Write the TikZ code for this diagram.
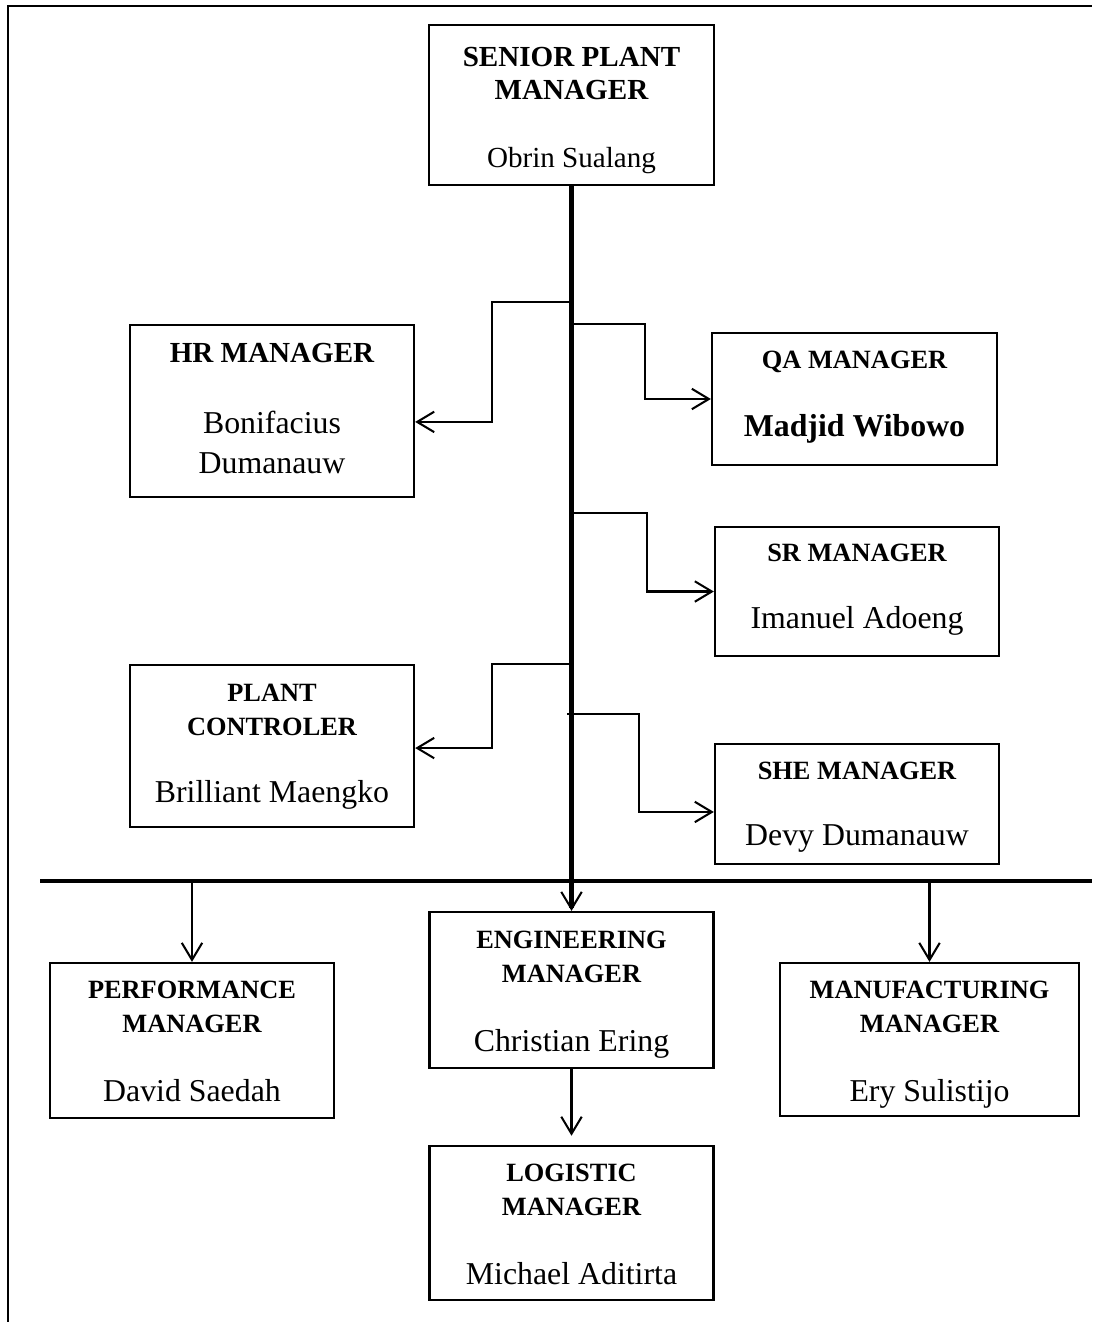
\documentclass[tikz,border=0pt]{standalone}
\usepackage{fontspec}
\setmainfont{Liberation Serif}
\usetikzlibrary{arrows.meta}
\tikzset{
  box/.style={draw, line width=1pt, inner sep=0pt},
  title/.style={font=\fontsize{11.6}{15}\selectfont\bfseries, align=center, text depth=0pt, inner sep=0pt},
  bigtitle/.style={title, font=\fontsize{12.8}{14.6}\selectfont\bfseries},
  person/.style={font=\fontsize{14}{17.6}\selectfont, align=center, text depth=0pt, inner sep=0pt},
  barb/.style={-{Straight Barb[length=7.5pt, width=9pt, line width=0.9pt]}},
  trunk/.style={line width=2pt},
  branch/.style={line width=0.9pt, barb}
}

\begin{document}
\begin{tikzpicture}[x=0.44pt, y=-0.44pt]
\useasboundingbox (0,0) rectangle (1092,1322);
\draw[line width=0.7pt] (8,1322) -- (8,6) -- (1092,6);

\node[box, minimum width=125.4pt, minimum height=70.4pt] (senior) at (571.5,105) {};
\node[bigtitle] (seniorT) at (571.5,73.5) {SENIOR PLANT\\MANAGER};
\node[person, font=\fontsize{12.8}{16}\selectfont] (seniorN) at (571.5,157) {Obrin Sualang};

\node[box, minimum width=125pt, minimum height=75.7pt] (hr) at (272,411) {};
\node[bigtitle] (hrT) at (272,353) {HR MANAGER};
\node[person] (hrN) at (272,442) {Bonifacius\\Dumanauw};

\node[box, minimum width=125.4pt, minimum height=58.1pt] (qa) at (854.5,399) {};
\node[title] (qaT) at (854.5,360) {QA MANAGER};
\node[person, font=\fontsize{14}{17.6}\selectfont\bfseries] (qaN) at (854.5,425) {Madjid Wibowo};

\node[box, minimum width=125pt, minimum height=56.8pt] (sr) at (857,591.5) {};
\node[title] (srT) at (857,553) {SR MANAGER};
\node[person] (srN) at (857,617) {Imanuel Adoeng};

\node[box, minimum width=125pt, minimum height=71.3pt] (pc) at (272,746) {};
\node[title] (pcT) at (272,709.5) {PLANT\\CONTROLER};
\node[person] (pcN) at (272,791) {Brilliant Maengko};

\node[box, minimum width=125pt, minimum height=52.8pt] (she) at (857,804) {};
\node[title] (sheT) at (857,771) {SHE MANAGER};
\node[person] (sheN) at (857,835) {Devy Dumanauw};

\node[box, minimum width=125pt, minimum height=68.6pt] (eng) at (571.5,990) {};
\node[title] (engT) at (571.5,957) {ENGINEERING\\MANAGER};
\node[person] (engN) at (571.5,1040) {Christian Ering};

\node[box, minimum width=125pt, minimum height=68.2pt] (perf) at (192,1040.5) {};
\node[title] (perfT) at (192,1007) {PERFORMANCE\\MANAGER};
\node[person] (perfN) at (192,1090) {David Saedah};

\node[box, minimum width=131.6pt, minimum height=67.3pt] (manuf) at (929.5,1039.5) {};
\node[title] (manufT) at (929.5,1007) {MANUFACTURING\\MANAGER};
\node[person] (manufN) at (929.5,1090) {Ery Sulistijo};

\node[box, minimum width=125pt, minimum height=67.8pt] (logi) at (571.5,1223) {};
\node[title] (logiT) at (571.5,1189.5) {LOGISTIC\\MANAGER};
\node[person] (logiN) at (571.5,1273) {Michael Aditirta};

\coordinate (tHR) at (571.5,302);
\coordinate (tQA) at (571.5,324);
\coordinate (tSR) at (571.5,513);
\coordinate (tPC) at (571.5,664);
\coordinate (tSHE) at (567,714);
\coordinate (barL) at (40,881);
\coordinate (barR) at (1092,881);

\draw[trunk, barb] (senior.south) -- (eng.north);
\draw[trunk] (barL) -- (barR);

\draw[branch] (tHR) -- ++(-79.5,0) |- ([yshift=-4.8pt]hr.east);
\draw[branch] (tQA) -- ++(73.5,0) |- (qa.west);
\draw[branch] (tSR) -- ++(75.5,0) |- (sr.west);
\draw[branch] (tPC) -- ++(-79.5,0) |- ([yshift=-0.9pt]pc.east);
\draw[branch] (tSHE) -- ++(72,0) |- ([yshift=-3.5pt]she.west);
\draw[branch] (perf.north |- barL) -- (perf.north);
\draw[branch] (manuf.north |- barL) -- (manuf.north);
\draw[branch, shorten >=4pt] (eng.south) -- (logi.north);
\end{tikzpicture}
\end{document}
